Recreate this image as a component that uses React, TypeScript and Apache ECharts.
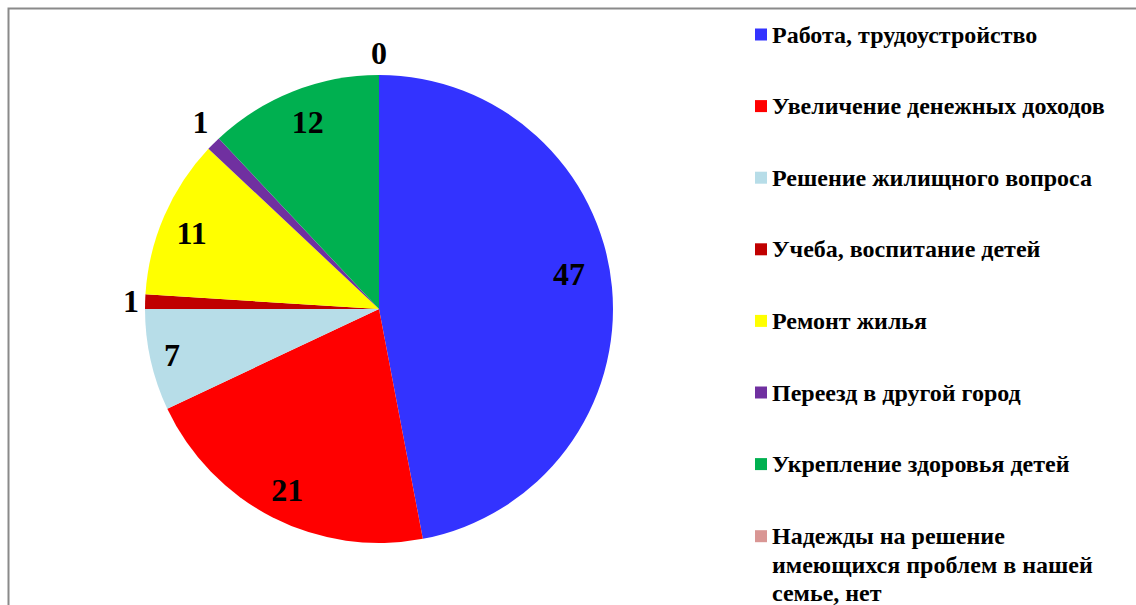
import React, { useEffect, useRef } from 'react';
import * as echarts from 'echarts';

const categories = [
  'Работа, трудоустройство',
  'Увеличение денежных доходов',
  'Решение жилищного вопроса',
  'Учеба, воспитание детей',
  'Ремонт жилья',
  'Переезд в другой город',
  'Укрепление здоровья детей',
  'Надежды на решение имеющихся проблем в нашей семье, нет',
];
const values = [47, 21, 7, 1, 11, 1, 12, 0];
const colors = ['#3333FF', '#FF0000', '#B7DDE8', '#C00000', '#FFFF00', '#7030A0', '#00B050', '#D99694'];
// two leading empty lines keep the first line level with the legend square
const legendWrapped = '\n\nНадежды на решение\nимеющихся проблем в нашей\nсемье, нет';

// label fine-tuning (styling only)
const innerNudge: Record<number, number[]> = { 0: [-11, -16], 1: [0, 1], 2: [-10, 2], 4: [-2, 4], 6: [3, 1] };
const outerNudge: Record<number, number[]> = { 3: [2, -1], 5: [2, -19], 7: [13, -19] };

const FONT = '"Liberation Serif", "Times New Roman", serif';

export default function App() {
  const ref = useRef<HTMLDivElement>(null);
  useEffect(() => {
    if (!ref.current) return;
    const chart = echarts.init(ref.current, undefined, { renderer: 'svg' });
    const R = 234;
    const center = [379, 309];
    const labelBase = { fontFamily: FONT, fontWeight: 'bold', fontSize: 32, color: '#000', formatter: '{c}' };

    const mainData = categories.map((name, i) => ({
      name,
      value: values[i],
      itemStyle: { color: colors[i] },
      label: outerNudge[i]
        ? { show: true, position: 'outside', offset: outerNudge[i], ...labelBase }
        : { show: false },
    }));
    const ringData = categories.map((name, i) => ({
      name,
      value: values[i],
      itemStyle: { color: 'rgba(0,0,0,0)' },
      label: innerNudge[i]
        ? { show: true, position: 'inside', offset: innerNudge[i], ...labelBase }
        : { show: false },
    }));

    const legendText = { fontFamily: FONT, fontWeight: 'bold', fontSize: 24, color: '#000', lineHeight: 28 };

    chart.setOption({
      animation: false,
      backgroundColor: '#fff',
      graphic: [
        {
          type: 'rect',
          shape: { x: 8.5, y: 8.5, width: 1200, height: 700 },
          style: { fill: 'none', stroke: '#8a8a8a', lineWidth: 2 },
          silent: true,
        },
      ],
      legend: [
        {
          orient: 'vertical',
          left: 755,
          top: 20.5,
          padding: 0,
          itemWidth: 12,
          itemHeight: 12,
          itemGap: 43.6,
          icon: 'rect',
          selectedMode: false,
          textStyle: legendText,
          data: categories.slice(0, 7).map((name, i) => ({ name, itemStyle: { color: colors[i] } })),
        },
        {
          orient: 'vertical',
          left: 755,
          top: 536.2 - 6 - 65.25,
          padding: 0,
          itemWidth: 12,
          itemHeight: 12,
          icon: 'rect',
          selectedMode: false,
          formatter: (name: string) => (name === categories[7] ? legendWrapped : name),
          textStyle: { ...legendText, lineHeight: 28.5 },
          data: [{ name: categories[7], itemStyle: { color: colors[7] } }],
        },
      ],
      series: [
        {
          type: 'pie',
          center,
          radius: R,
          startAngle: 90,
          clockwise: true,
          avoidLabelOverlap: false,
          emphasis: { disabled: true },
          labelLine: { show: false, length: 3, length2: 0 },
          data: mainData,
        },
        {
          type: 'pie',
          center,
          radius: [R * 0.7, R],
          startAngle: 90,
          clockwise: true,
          silent: true,
          avoidLabelOverlap: false,
          emphasis: { disabled: true },
          labelLine: { show: false },
          data: ringData,
        },
      ],
    });
    return () => chart.dispose();
  }, []);
  return <div ref={ref} style={{ position: 'fixed', left: 0, top: 0, width: 1136, height: 605 }} />;
}
